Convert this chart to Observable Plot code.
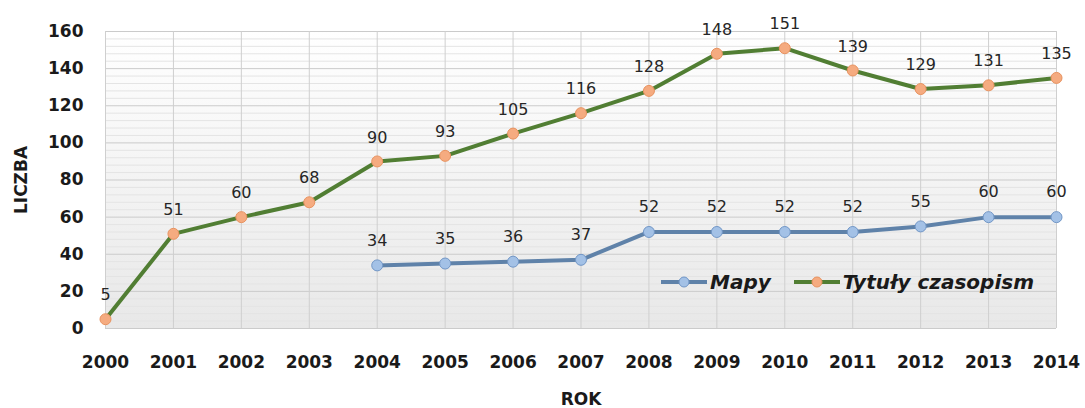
<!DOCTYPE html>
<html>
<head>
<meta charset="utf-8">
<script src="https://cdn.jsdelivr.net/npm/d3@7"></script>
<script src="https://cdn.jsdelivr.net/npm/@observablehq/plot@0.6"></script>
<style>
  html, body { margin: 0; padding: 0; background: #fff; }
  #wrap { position: relative; width: 1085px; height: 408px; font-family: "DejaVu Sans", sans-serif; }
  #legend { position: absolute; left: 660px; top: 270px; display: flex; align-items: center; font-weight: bold; font-style: italic; font-size: 20px; color: #1a1a1a; white-space: nowrap; }
  #legend .item { display: flex; align-items: center; }
  #legend svg { margin-right: 2px; }
</style>
</head>
<body>
<div id="wrap"></div>
<script>
const years = [2000, 2001, 2002, 2003, 2004, 2005, 2006, 2007, 2008, 2009, 2010, 2011, 2012, 2013, 2014];
const mapyYears = [2004, 2005, 2006, 2007, 2008, 2009, 2010, 2011, 2012, 2013, 2014];
const mapyValues = [34, 35, 36, 37, 52, 52, 52, 52, 55, 60, 60];
const tytulyValues = [5, 51, 60, 68, 90, 93, 105, 116, 128, 148, 151, 139, 129, 131, 135];
const yTicks = [0, 20, 40, 60, 80, 100, 120, 140, 160];
const seriesNames = ["Mapy", "Tytuły czasopism"];

const mapy = mapyYears.map((y, i) => ({year: y, value: mapyValues[i]}));
const tytuly = years.map((y, i) => ({year: y, value: tytulyValues[i]}));

const colors = {
  mapyLine: "#5f82a9", mapyFill: "#a3c1e6", mapyStroke: "#7196c6",
  tytLine: "#517e33", tytFill: "#f5ab80", tytStroke: "#e8925f"
};

function background(index, scales, values, dims) {
  const g = d3.create("svg:g");
  const lg = g.append("defs").append("linearGradient")
    .attr("id", "bggrad").attr("x1", 0).attr("y1", 0).attr("x2", 0).attr("y2", 1);
  lg.append("stop").attr("offset", "0%").attr("stop-color", "#ffffff");
  lg.append("stop").attr("offset", "100%").attr("stop-color", "#e8e8e8");
  g.append("rect")
    .attr("x", dims.marginLeft).attr("y", dims.marginTop)
    .attr("width", dims.width - dims.marginLeft - dims.marginRight)
    .attr("height", dims.height - dims.marginTop - dims.marginBottom)
    .attr("fill", "url(#bggrad)");
  return g.node();
}

const minorTicks = d3.range(0, 161, 4).filter(v => v % 20 !== 0);

const chart = Plot.plot({
  width: 1085,
  height: 408,
  marginLeft: 105,
  marginRight: 29,
  marginTop: 31,
  marginBottom: 80,
  style: {fontFamily: "DejaVu Sans, sans-serif", color: "#1a1a1a", background: "transparent"},
  x: {type: "linear", domain: [2000, 2014]},
  y: {domain: [0, 160]},
  marks: [
    background,
    Plot.gridY(minorTicks, {stroke: "#e4e4e4", strokeOpacity: 1}),
    Plot.gridY(yTicks, {stroke: "#cbcbcb", strokeOpacity: 1}),
    Plot.gridX(years, {stroke: "#cfcfcf", strokeOpacity: 1}),
    Plot.axisY(yTicks, {tickSize: 0, tickPadding: 22, fontSize: 17, fontWeight: "bold",
      label: "LICZBA", labelAnchor: "center", labelOffset: 91, labelArrow: "none"}),
    Plot.axisX(years, {tickSize: 0, tickPadding: 27, fontSize: 17, fontWeight: "bold",
      tickFormat: d => String(d), label: "ROK", labelAnchor: "center", labelOffset: 76, labelArrow: "none"}),
    Plot.line(tytuly, {x: "year", y: "value", stroke: colors.tytLine, strokeWidth: 4}),
    Plot.line(mapy, {x: "year", y: "value", stroke: colors.mapyLine, strokeWidth: 4}),
    Plot.dot(tytuly, {x: "year", y: "value", r: 5.5, fill: colors.tytFill, stroke: colors.tytStroke, strokeWidth: 1}),
    Plot.dot(mapy, {x: "year", y: "value", r: 5.5, fill: colors.mapyFill, stroke: colors.mapyStroke, strokeWidth: 1}),
    Plot.text(tytuly, {x: "year", y: "value", text: d => String(d.value), dy: -24, fontSize: 16, fill: "#262626"}),
    Plot.text(mapy, {x: "year", y: "value", text: d => String(d.value), dy: -25, fontSize: 16, fill: "#262626"})
  ]
});

const wrap = document.getElementById("wrap");
wrap.appendChild(chart);

function swatch(line, fill, stroke) {
  return `<svg width="48" height="14" viewBox="0 0 48 14"><line x1="1" y1="7" x2="47" y2="7" stroke="${line}" stroke-width="4"/><circle cx="24" cy="7" r="5" fill="${fill}" stroke="${stroke}" stroke-width="1"/></svg>`;
}
const legend = document.createElement("div");
legend.id = "legend";
legend.innerHTML =
  `<div class="item">${swatch(colors.mapyLine, colors.mapyFill, colors.mapyStroke)}<span>${seriesNames[0]}</span></div>` +
  `<div class="item" style="margin-left:22px">${swatch(colors.tytLine, colors.tytFill, colors.tytStroke)}<span>${seriesNames[1]}</span></div>`;
wrap.appendChild(legend);
</script>
</body>
</html>
